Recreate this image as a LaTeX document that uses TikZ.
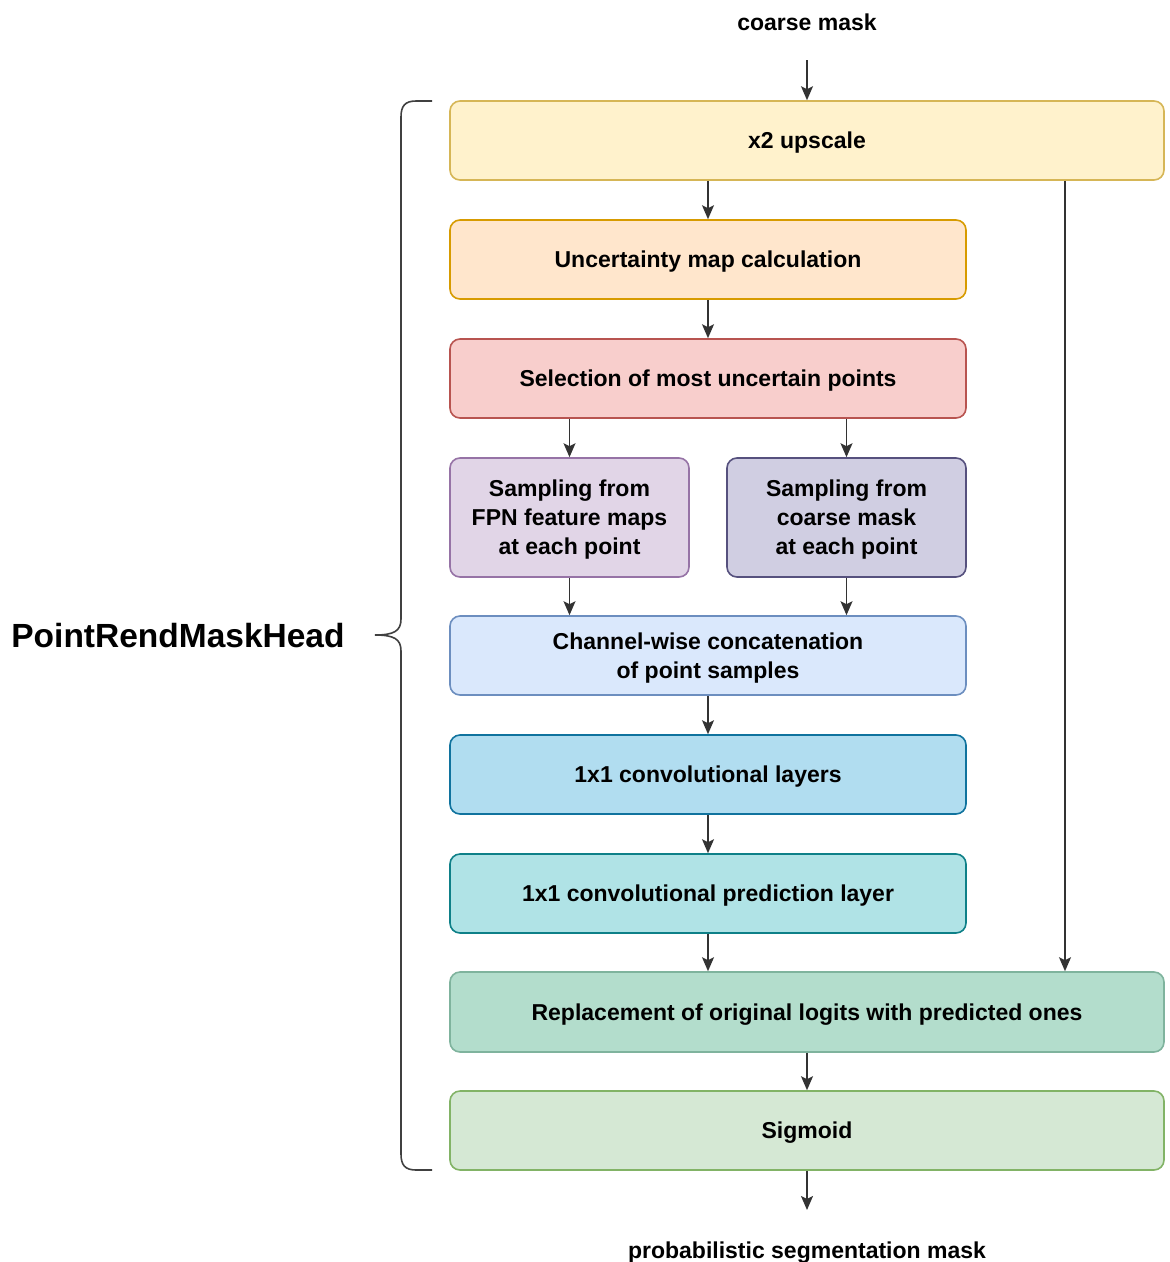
\documentclass[tikz,border=0pt]{standalone}
\usepackage{fontspec}
\setmainfont{Liberation Sans}
\usetikzlibrary{arrows.meta}
\definecolor{upFill}{HTML}{FFF2CC}\definecolor{upLine}{HTML}{D6B656}
\definecolor{uncFill}{HTML}{FFE6CC}\definecolor{uncLine}{HTML}{D79B00}
\definecolor{selFill}{HTML}{F8CECC}\definecolor{selLine}{HTML}{B85450}
\definecolor{fpnFill}{HTML}{E1D5E7}\definecolor{fpnLine}{HTML}{9673A6}
\definecolor{cmsFill}{HTML}{D0CEE2}\definecolor{cmsLine}{HTML}{56517E}
\definecolor{catFill}{HTML}{DAE8FC}\definecolor{catLine}{HTML}{6C8EBF}
\definecolor{convFill}{HTML}{B1DDF0}\definecolor{convLine}{HTML}{10739E}
\definecolor{predFill}{HTML}{B0E3E6}\definecolor{predLine}{HTML}{0E8088}
\definecolor{repFill}{HTML}{B3DDCC}\definecolor{repLine}{HTML}{7FB39D}
\definecolor{sigFill}{HTML}{D5E8D4}\definecolor{sigLine}{HTML}{82B366}
\begin{document}
\begin{tikzpicture}[x=1pt,y=-1pt,
  stage/.style={draw, line width=1.6pt, rounded corners=10pt, align=center,
    inner sep=0pt, font=\bfseries\fontsize{23}{29}\selectfont, text depth=0pt},
  % text height = cap height of the first line plus the skips below it,
  % so that the block of capitals sits in the middle of the box
  oneline/.style={text height=16.5pt},
  twolines/.style={text height=45.5pt},
  threelines/.style={text height=74.5pt},
  wide/.style={stage, oneline, minimum width=714pt, minimum height=79pt},
  mid/.style={stage, oneline, minimum width=516pt, minimum height=79pt},
  narrow/.style={stage, threelines, minimum width=239pt, minimum height=119pt},
  label/.style={font=\bfseries\fontsize{23}{29}\selectfont, inner sep=0pt},
  flow/.style={-{Stealth[length=14pt,width=12pt,inset=3pt]}, line width=1.6pt, draw=black!80},
  brace/.style={line width=1.6pt, draw=black!75}
]
\useasboundingbox (0,0) rectangle (1170,1262);

% processing stages
\node[wide,   fill=upFill,   draw=upLine]   (up)   at (807,140.5)  {x2 upscale};
\node[mid,    fill=uncFill,  draw=uncLine]  (unc)  at (708,259.5)  {Uncertainty map calculation};
\node[mid,    fill=selFill,  draw=selLine]  (sel)  at (708,378.5)  {Selection of most uncertain points};
\node[narrow, fill=fpnFill,  draw=fpnLine]  (fpn)  at (569.5,517.5) {Sampling from\\FPN feature maps\\at each point};
\node[narrow, fill=cmsFill,  draw=cmsLine]  (cms)  at (846.5,517.5) {Sampling from\\coarse mask\\at each point};
\node[mid, twolines, fill=catFill, draw=catLine] (cat) at (708,655.5) {Channel-wise concatenation\\of point samples};
\node[mid,    fill=convFill, draw=convLine] (conv) at (708,774.5)  {1x1 convolutional layers};
\node[mid,    fill=predFill, draw=predLine] (pred) at (708,893.5)  {1x1 convolutional prediction layer};
\node[wide,   fill=repFill,  draw=repLine, minimum height=80pt] (rep) at (807,1012) {Replacement of original logits with predicted ones};
\node[wide,   fill=sigFill,  draw=sigLine]  (sig)  at (807,1130.5) {Sigmoid};

% input and output
\node[label, anchor=base] (in) at (807,30) {coarse mask};
\node[label, anchor=base] (out) at (807,1258) {probabilistic segmentation mask};
\coordinate (inEnd) at (807,60);
\coordinate (outEnd) at (807,1210);
\coordinate (skip) at (1065,0);

% connectors
\draw[flow] (inEnd) -- (up.north);
\draw[flow] (up.south -| unc.north) -- (unc.north);
\draw[flow] (unc) -- (sel);
\draw[flow] (sel.south -| fpn.north) -- (fpn.north);
\draw[flow] (sel.south -| cms.north) -- (cms.north);
\draw[flow] (fpn.south) -- (cat.north -| fpn.south);
\draw[flow] (cms.south) -- (cat.north -| cms.south);
\draw[flow] (cat) -- (conv);
\draw[flow] (conv) -- (pred);
\draw[flow] (pred.south) -- (rep.north -| pred.south);
\draw[flow] (up.south -| skip) -- (rep.north -| skip);
\draw[flow] (rep) -- (sig);
\draw[flow] (sig.south) -- (outEnd);

% grouping brace and its title
\draw[brace] (432,101) -- (416,101) .. controls (405,101) and (401,106) .. (401,117)
  -- (401,619) .. controls (401,631) and (394,635) .. (375,635)
  .. controls (394,635) and (401,639) .. (401,651)
  -- (401,1154) .. controls (401,1165) and (405,1170) .. (416,1170) -- (432,1170);
\node[font=\bfseries\fontsize{33.5}{38}\selectfont, anchor=base, inner sep=0pt] (title) at (178,647) {PointRendMaskHead};
\end{tikzpicture}
\end{document}
